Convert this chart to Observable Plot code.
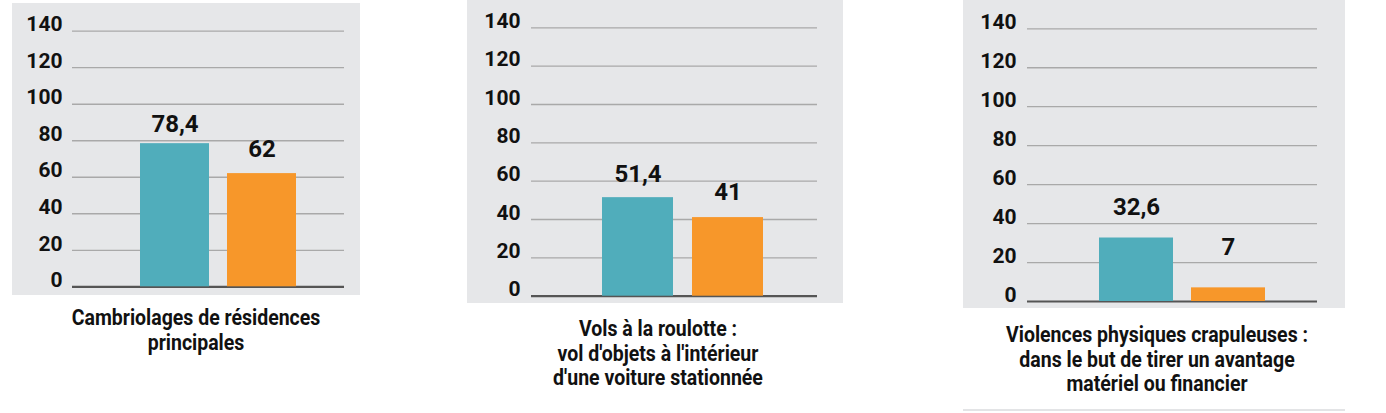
<!DOCTYPE html>
<html><head><meta charset="utf-8">
<script src="https://cdn.jsdelivr.net/npm/d3@7"></script>
<script src="https://cdn.jsdelivr.net/npm/@observablehq/plot@0.6"></script>
<style>
body{margin:0;background:#fff;}
#root{position:relative;width:1386px;height:413px;overflow:hidden;font-family:Roboto,"DejaVu Sans",sans-serif;}
.panel{position:absolute;}
.panel svg text{font-weight:bold;}
.cap{position:absolute;width:500px;text-align:center;font-weight:bold;font-size:22px;line-height:24.5px;color:#111;white-space:nowrap;transform:scaleX(0.886);transform-origin:50% 50%;}
.rule{position:absolute;height:0;border-top:2px solid #e3e4e6;}
</style></head><body><div id="root"></div>
<script>
// ---- data ----
const series = ["série 1", "série 2"];
const categories = [
  "Cambriolages de résidences\nprincipales",
  "Vols à la roulotte :\nvol d'objets à l'intérieur\nd'une voiture stationnée",
  "Violences physiques crapuleuses :\ndans le but de tirer un avantage\nmatériel ou financier"
];
const values1 = [78.4, 51.4, 32.6];
const values2 = [62, 41, 7];
const labels1 = ["78,4", "51,4", "32,6"];
const labels2 = ["62", "41", "7"];
const yTicks = [0, 20, 40, 60, 80, 100, 120, 140];
const colors = ["#50adbb", "#f7972a"];

// ---- layout (styles only) ----
const layout = [
  {left: 12, top: 3, width: 348, height: 292, mt: 27.7, mb: 8.7, ml: 60, mr: 16, xr: [128, 284], pi: 0.207, tp: 10, dy: [11.5, 16.4], cx: 196, cy: 306},
  {left: 467, top: 0, width: 376, height: 303, mt: 27.3, mb: 7.3, ml: 64, mr: 26, xr: [134.7, 297.3], pi: 0.209, tp: 11, dy: [15.5, 17.1], cx: 658, cy: 317},
  {left: 963, top: 0, width: 382, height: 308, mt: 28.3, mb: 7, ml: 64, mr: 28, xr: [136, 302], pi: 0.2, tp: 11, dy: [22.5, 32.4], cx: 1157, cy: 323}
];

const root = document.getElementById("root");

categories.forEach((cat, i) => {
  const L = layout[i];
  const data = [
    {series: series[0], value: values1[i], label: labels1[i]},
    {series: series[1], value: values2[i], label: labels2[i]}
  ];
  const chart = Plot.plot({
    width: L.width, height: L.height,
    marginTop: L.mt, marginBottom: L.mb, marginLeft: L.ml, marginRight: L.mr,
    style: {background: "#e6e7e9", fontFamily: 'Roboto,"DejaVu Sans",sans-serif', overflow: "visible"},
    x: {type: "band", domain: series, range: L.xr, paddingInner: L.pi, paddingOuter: 0, axis: null},
    y: {domain: [0, 140], axis: null},
    color: {domain: series, range: colors},
    marks: [
      Plot.ruleY(yTicks.filter(d => d > 0), {stroke: "#a9a9a9", strokeWidth: 1.3}),
      Plot.ruleY([0], {stroke: "#555", strokeWidth: 2.2}),
      Plot.axisY(yTicks, {tickSize: 0, tickPadding: L.tp, fontSize: 21, fontWeight: "bold", fill: "#111", dy: -6.5, label: null}),
      Plot.barY(data, {x: "series", y: "value", fill: "series"}),
      Plot.text(data.filter(d => d.series === series[0]), {x: "series", y: "value", text: "label", lineAnchor: "bottom", dy: -L.dy[0], fontSize: 24, fontWeight: "bold", fill: "#111"}),
      Plot.text(data.filter(d => d.series === series[1]), {x: "series", y: "value", text: "label", lineAnchor: "bottom", dy: -L.dy[1], fontSize: 24, fontWeight: "bold", fill: "#111"})
    ]
  });
  const wrap = document.createElement("div");
  wrap.className = "panel";
  wrap.style.left = L.left + "px";
  wrap.style.top = L.top + "px";
  wrap.appendChild(chart);
  root.appendChild(wrap);

  const cap = document.createElement("div");
  cap.className = "cap";
  cap.style.left = (L.cx - 250) + "px";
  cap.style.top = L.cy + "px";
  cap.innerHTML = cat.split("\n").join("<br>");
  root.appendChild(cap);
});

const rule = document.createElement("div");
rule.className = "rule";
rule.style.left = "963px";
rule.style.top = "409px";
rule.style.width = "382px";
root.appendChild(rule);
</script>
</body></html>
